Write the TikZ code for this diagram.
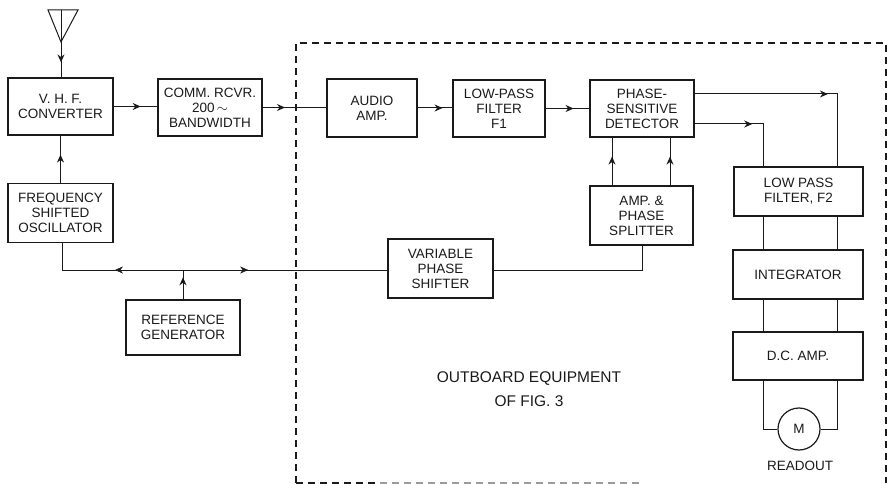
\documentclass[tikz,border=0pt]{standalone}
\usepackage{fontspec}
\setmainfont{Liberation Sans}
\usepackage{xcolor}
\usetikzlibrary{arrows.meta,decorations.markings}
\definecolor{plateink}{HTML}{1A1A1A}
\definecolor{platefade}{HTML}{9A9A9A}

\begin{document}
\begin{tikzpicture}[
  x=1pt,
  y=-1pt,
  every node/.style={font=\fontsize{13.5}{15}\selectfont, text=plateink},
  blockbox/.style 2 args={draw=plateink, line width=1.7pt, minimum width=#1pt, minimum height=#2pt, inner sep=0pt, align=center},
  wire/.style={draw=plateink, line width=1pt},
  flowmark/.style={postaction={decorate}, decoration={markings, mark=at position #1 with {\arrow{Stealth[length=8pt,width=7pt]}}}},
  outline/.style={draw=plateink, line width=1.2pt, dash pattern=on 7pt off 5pt}
]
  \useasboundingbox (0,0) rectangle (887,484);

  \draw[outline] (296,483) -- (296,43) -- (886,43) -- (886,483);
  \draw[outline] (296,483) -- (380,483);
  \draw[outline, draw=platefade] (380,483) -- (640,483);

  \node[blockbox={105}{57}] (vhf) at (60.5,106.5) {V. H. F.\\CONVERTER};
  \node[blockbox={104}{57}] (comm) at (210,107.5) {COMM. RCVR.\\200\,$\sim$\\BANDWIDTH};
  \node[blockbox={105}{59}] (freq) at (60.5,213) {FREQUENCY\\SHIFTED\\OSCILLATOR};
  \node[blockbox={90}{58}] (audio) at (372,108) {AUDIO\\AMP.};
  \node[blockbox={92}{57}] (lowpass) at (499,108.5) {LOW-PASS\\FILTER\\F1};
  \node[blockbox={104}{57}] (detector) at (642,108.5) {PHASE-\\SENSITIVE\\DETECTOR};
  \node[blockbox={103}{59}] (splitter) at (641.5,215.5) {AMP. \&\\PHASE\\SPLITTER};
  \node[blockbox={105}{59}] (shifter) at (440.5,268.5) {VARIABLE\\PHASE\\SHIFTER};
  \node[blockbox={114}{55}] (reference) at (183,327.5) {REFERENCE\\GENERATOR};
  \node[blockbox={129}{49}] (lowfilter) at (798.5,191.5) {LOW PASS\\FILTER, F2};
  \node[blockbox={130}{49}] (integrator) at (798,274.5) {INTEGRATOR};
  \node[blockbox={130}{48}] (dcamp) at (798,356) {D.C. AMP.};
  \node[draw=plateink, line width=1.2pt, circle, minimum size=42pt, inner sep=0pt] (meter) at (799,429) {M};
  \node (readout) at (800,466) {READOUT};
  \node[font=\fontsize{15.5}{24}\selectfont, align=center] (outboard) at (529,389) {OUTBOARD EQUIPMENT\\OF FIG. 3};

  \coordinate (aerialleft) at (48,10);
  \coordinate (aerialright) at (78,10);
  \coordinate (aerialtip) at (61,42);
  \coordinate (aerialtop) at (61,10);
  \coordinate (lineleft) at (62,270);
  \coordinate (lineright) at (642,270);
  \coordinate (linerefer) at (183,270);
  \coordinate (detupper) at (694,94);
  \coordinate (detlower) at (694,124);
  \coordinate (filterright) at (837,167);
  \coordinate (filterleft) at (763,167);

  \draw[wire] (aerialleft) -- (aerialright) -- (aerialtip) -- cycle;
  \draw[wire] (aerialtop) -- (aerialtip);
  \draw[wire, flowmark=0.58] (aerialtip) -- (aerialtip |- vhf.north);

  \draw[wire, flowmark=0.62] (vhf.east) -- (vhf.east -| comm.west);
  \draw[wire, flowmark=0.35] (comm.east) -- (comm.east -| audio.west);
  \draw[wire, flowmark=0.72] (audio.east) -- (audio.east -| lowpass.west);
  \draw[wire, flowmark=0.64] (lowpass.east) -- (lowpass.east -| detector.west);
  \draw[wire, flowmark=0.6] (freq.north) -- (vhf.south);

  \draw[wire, flowmark=0.6] (612,186) -- (612,137);
  \draw[wire, flowmark=0.6] (670,186) -- (670,137);

  \draw[wire, flowmark=0.62] (detupper) -- (filterright |- detupper) -- (filterright);
  \draw[wire, flowmark=0.52] (detlower) -- (filterleft |- detlower) -- (filterleft);

  \draw[wire] (freq.south -| lineleft) -- (lineleft) -- (shifter.west |- lineleft);
  \draw[wire] (shifter.east |- lineright) -- (lineright) -- (lineright |- splitter.south);
  \path (lineleft) -- (linerefer) node[pos=0.47, sloped, allow upside down, rotate=180, inner sep=0pt, text=plateink] (leftmark) {\tikz\draw[plateink, -{Stealth[length=8pt,width=7pt]}] (0,0) -- (1pt,0);};
  \path (linerefer) -- (shifter.west |- linerefer) node[pos=0.3, inner sep=0pt] (rightmark) {\tikz\draw[plateink, -{Stealth[length=8pt,width=7pt]}] (0,0) -- (1pt,0);};
  \draw[wire, flowmark=0.75] (reference.north) -- (linerefer);

  \draw[wire] (lowfilter.south -| filterleft) -- (integrator.north -| filterleft);
  \draw[wire] (lowfilter.south -| filterright) -- (integrator.north -| filterright);
  \draw[wire] (integrator.south -| filterleft) -- (dcamp.north -| filterleft);
  \draw[wire] (integrator.south -| filterright) -- (dcamp.north -| filterright);
  \draw[wire] (dcamp.south -| filterleft) |- (meter.west);
  \draw[wire] (dcamp.south -| filterright) |- (meter.east);
\end{tikzpicture}
\end{document}
